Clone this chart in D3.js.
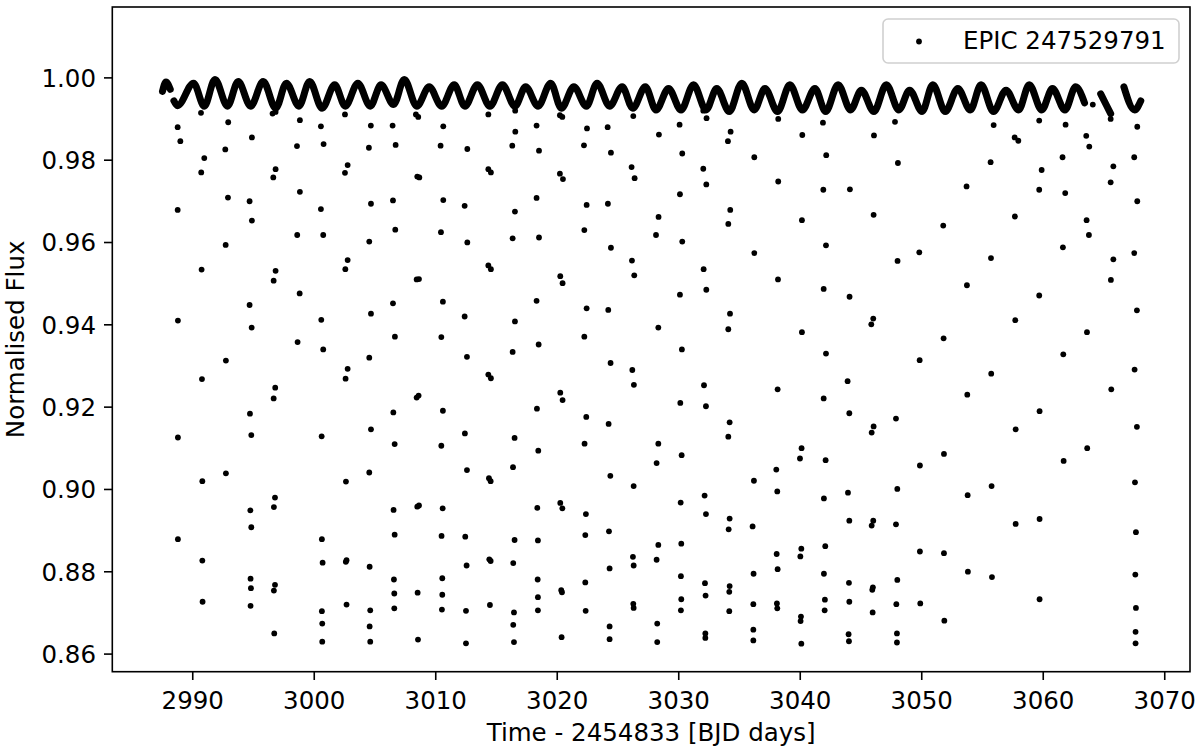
<!DOCTYPE html>
<html>
<head>
<meta charset="utf-8">
<script src="https://cdn.jsdelivr.net/npm/d3@7"></script>
<style>
  html, body { margin: 0; padding: 0; background: #fff; }
  svg { display: block; font-family: "DejaVu Sans", sans-serif; }
</style>
</head>
<body>
<svg id="chart" width="1200" height="752"></svg>
<script>
// ---------------- DATA ----------------
const seriesName = "EPIC 247529791";
const xLabel = "Time - 2454833 [BJD days]";
const yLabel = "Normalised Flux";
const xTicks = [2990, 3000, 3010, 3020, 3030, 3040, 3050, 3060, 3070];
const yTicks = [0.86, 0.88, 0.90, 0.92, 0.94, 0.96, 0.98, 1.00];
const xDomain = [2983.42, 3072.12];
const yDomain = [0.8556, 1.0171];

// out-of-eclipse band: extrema of the modulation (null = data gap)
const bandPoints = [
  [2987.55,0.9966],[2987.84,0.9989],[2988.19,0.9971], null,
  [2988.49,0.9943],[2988.78,0.9931],[2990.11,0.9986],[2990.99,0.9930],[2991.87,0.9995],
  [2992.90,0.9930],[2993.78,0.9990],[2994.81,0.9930],[2995.84,0.9990],[2996.87,0.9925],
  [2997.75,0.9986],[2998.78,0.9930],[2999.66,0.9990],[3000.69,0.9925],[3001.72,0.9982],
  [3002.60,0.9930],[3003.63,0.9986],[3004.65,0.9930],[3005.54,0.9982],[3006.57,0.9934],
  [3007.45,0.9995],[3008.48,0.9930],[3009.50,0.9977],[3010.53,0.9930],[3011.56,0.9982],
  [3012.44,0.9930],[3013.47,0.9982],[3014.50,0.9930],[3015.53,0.9982],[3016.56,0.9930],
  [3017.44,0.9977],[3018.47,0.9930],[3019.50,0.9986],[3020.38,0.9925],[3021.41,0.9977],
  [3022.44,0.9930],[3023.32,0.9986],[3024.35,0.9930],[3025.38,0.9977],[3026.26,0.9925],
  [3027.29,0.9977],[3028.17,0.9921],[3029.20,0.9973],[3030.23,0.9921],[3031.26,0.9982],
  [3032.29,0.9921],[3033.17,0.9973],[3034.20,0.9917],[3035.23,0.9986],[3036.25,0.9921],
  [3037.14,0.9973],[3038.17,0.9917],[3039.19,0.9982],[3040.22,0.9921],[3041.25,0.9973],
  [3042.13,0.9917],[3043.16,0.9982],[3044.19,0.9921],[3045.07,0.9969],[3046.10,0.9917],
  [3047.13,0.9982],[3048.16,0.9921],[3049.04,0.9969],[3050.07,0.9917],[3050.95,0.9982],
  [3051.98,0.9917],[3053.01,0.9973],[3054.04,0.9921],[3054.92,0.9982],[3055.95,0.9917],
  [3056.98,0.9969],[3058.01,0.9921],[3058.89,0.9982],[3059.92,0.9921],[3060.80,0.9973],
  [3061.83,0.9921],[3062.71,0.9977],[3063.44,0.9938], null,
  [3064.77,0.9960],[3065.21,0.9934],[3065.59,0.9912], null,
  [3066.68,0.9977],[3067.56,0.9921],[3068.07,0.9943]
];

// isolated samples (eclipses and stray points)
const eclipsePoints = [
  [3064.12,0.9934],
  [2988.80,0.9879],[2989.02,0.9845],[2988.80,0.9678],[2988.82,0.9409],[2988.82,0.9125],[2988.82,0.8878],
  [2990.72,0.9914],[2990.99,0.9804],[2990.74,0.9769],[2990.77,0.9533],[2990.80,0.9267],[2990.83,0.9019],[2990.83,0.8826],[2990.85,0.8726],
  [2992.96,0.9891],[2992.72,0.9825],[2992.94,0.9708],[2992.75,0.9593],[2992.77,0.9312],[2992.77,0.9038],
  [2994.91,0.9854],[2994.72,0.9699],[2994.91,0.9652],[2994.72,0.9447],[2994.89,0.9392],[2994.75,0.9183],[2994.86,0.9131],[2994.78,0.8948],[2994.86,0.8907],[2994.80,0.8782],[2994.83,0.8759],[2994.80,0.8716],
  [2996.61,0.9912],[2996.86,0.9916],[2996.86,0.9777],[2996.67,0.9757],[2996.86,0.9530],[2996.70,0.9506],[2996.83,0.9246],[2996.70,0.9220],[2996.81,0.8979],[2996.72,0.8956],[2996.81,0.8767],[2996.72,0.8753],[2996.75,0.8649],
  [2998.86,0.9896],[2998.62,0.9833],[2998.86,0.9722],[2998.64,0.9617],[2998.84,0.9475],[2998.67,0.9357],
  [3000.59,0.9881],[3000.81,0.9838],[3000.59,0.9680],[3000.78,0.9617],[3000.62,0.9411],[3000.78,0.9339],[3000.65,0.9128],[3000.67,0.8878],[3000.73,0.8821],[3000.67,0.8703],[3000.70,0.8673],[3000.70,0.8629],
  [3002.57,0.9910],[3002.79,0.9787],[3002.57,0.9768],[3002.79,0.9556],[3002.60,0.9534],[3002.79,0.9292],[3002.62,0.9268],[3002.65,0.9018],[3002.70,0.8827],[3002.64,0.8823],[3002.70,0.8719],
  [3004.70,0.9883],[3004.54,0.9829],[3004.71,0.9693],[3004.57,0.9601],[3004.71,0.9426],[3004.57,0.9319],[3004.71,0.9145],[3004.57,0.9040],[3004.60,0.8811],[3004.65,0.8705],[3004.60,0.8666],[3004.65,0.8629],
  [3006.49,0.9883],[3006.74,0.9836],[3006.52,0.9701],[3006.71,0.9630],[3006.52,0.9451],[3006.68,0.9370],[3006.55,0.9186],[3006.66,0.9109],[3006.57,0.8949],[3006.66,0.8889],[3006.60,0.8780],[3006.63,0.8746],[3006.63,0.8710],
  [3008.41,0.9910],[3008.60,0.9904],[3008.52,0.9759],[3008.69,0.9757],[3008.47,0.9509],[3008.66,0.9510],[3008.47,0.9222],[3008.63,0.9227],[3008.52,0.8957],[3008.66,0.8960],[3008.55,0.8748],[3008.58,0.8634],
  [3010.66,0.9881],[3010.44,0.9834],[3010.66,0.9702],[3010.47,0.9624],[3010.63,0.9455],[3010.50,0.9369],[3010.63,0.9190],[3010.50,0.9105],[3010.61,0.8953],[3010.52,0.8886],[3010.58,0.8783],[3010.58,0.8743],[3010.55,0.8707],
  [3012.64,0.9826],[3012.42,0.9688],[3012.64,0.9599],[3012.42,0.9419],[3012.61,0.9321],[3012.44,0.9135],[3012.61,0.9046],[3012.47,0.8884],[3012.58,0.8814],[3012.53,0.8704],[3012.53,0.8625],
  [3014.37,0.9910],[3014.37,0.9777],[3014.58,0.9769],[3014.37,0.9543],[3014.58,0.9534],[3014.37,0.9278],[3014.58,0.9269],[3014.42,0.9026],[3014.56,0.9019],[3014.45,0.8829],[3014.56,0.8825],[3014.50,0.8718],
  [3016.58,0.9919],[3016.59,0.9868],[3016.34,0.9834],[3016.56,0.9674],[3016.37,0.9609],[3016.56,0.9407],[3016.37,0.9333],[3016.53,0.9124],[3016.40,0.9053],[3016.53,0.8876],[3016.42,0.8820],[3016.48,0.8700],[3016.42,0.8670],[3016.48,0.8628],
  [3018.34,0.9883],[3018.54,0.9822],[3018.34,0.9707],[3018.54,0.9611],[3018.34,0.9457],[3018.51,0.9351],[3018.37,0.9195],[3018.48,0.9093],[3018.40,0.8954],[3018.45,0.8875],[3018.43,0.8780],[3018.45,0.8737],[3018.45,0.8705],
  [3020.26,0.9908],[3020.46,0.9904],[3020.26,0.9766],[3020.51,0.9753],[3020.29,0.9517],[3020.48,0.9500],[3020.29,0.9234],[3020.48,0.9216],[3020.29,0.8966],[3020.46,0.8953],[3020.37,0.8754],[3020.43,0.8749],[3020.40,0.8640],
  [3022.49,0.9876],[3022.24,0.9835],[3022.46,0.9690],[3022.27,0.9629],[3022.46,0.9439],[3022.27,0.9370],[3022.43,0.9175],[3022.29,0.9110],[3022.40,0.8939],[3022.35,0.8888],[3022.35,0.8773],[3022.38,0.8704],
  [3024.19,0.9879],[3024.46,0.9817],[3024.21,0.9693],[3024.46,0.9586],[3024.24,0.9435],[3024.43,0.9306],[3024.27,0.9158],[3024.41,0.9032],[3024.30,0.8897],[3024.35,0.8807],[3024.35,0.8666],[3024.35,0.8635],
  [3026.30,0.9906],[3026.16,0.9782],[3026.41,0.9755],[3026.19,0.9555],[3026.38,0.9519],[3026.22,0.9289],[3026.35,0.9253],[3026.33,0.9007],[3026.27,0.8835],[3026.33,0.8814],[3026.30,0.8721],[3026.33,0.8711],
  [3028.41,0.9861],[3028.38,0.9661],[3028.17,0.9617],[3028.36,0.9392],[3028.36,0.9110],[3028.22,0.9063],[3028.36,0.8864],[3028.22,0.8828],[3028.27,0.8673],[3028.27,0.8628],
  [3030.11,0.9885],[3030.33,0.9815],[3030.14,0.9716],[3030.33,0.9601],[3030.14,0.9472],[3030.30,0.9339],[3030.17,0.9209],[3030.28,0.9082],[3030.20,0.8967],[3030.25,0.8867],[3030.22,0.8788],[3030.25,0.8732],[3030.22,0.8705],
  [3032.06,0.9919],[3032.33,0.9901],[3032.06,0.9778],[3032.31,0.9740],[3032.09,0.9534],[3032.31,0.9484],[3032.12,0.9252],[3032.28,0.9201],[3032.17,0.8984],[3032.28,0.8939],[3032.20,0.8771],[3032.25,0.8741],[3032.23,0.8649],[3032.23,0.8638],
  [3034.31,0.9868],[3034.09,0.9845],[3034.28,0.9678],[3034.12,0.9644],[3034.26,0.9426],[3034.12,0.9388],[3034.23,0.9162],[3034.12,0.9127],[3034.23,0.8928],[3034.15,0.8902],[3034.23,0.8764],[3034.20,0.8750],[3034.20,0.8703],
  [3036.26,0.9806],[3036.26,0.9573],[3036.23,0.9020],[3036.12,0.8909],[3036.20,0.8794],[3036.18,0.8720],[3036.18,0.8658],[3036.18,0.8632],
  [3038.23,0.9899],[3038.23,0.9747],[3038.21,0.9509],[3038.18,0.9242],[3038.07,0.9047],[3038.15,0.8994],[3038.10,0.8842],[3038.18,0.8805],[3038.12,0.8722],[3038.15,0.8710],
  [3040.21,0.9860],[3040.18,0.9653],[3040.18,0.9381],[3040.15,0.9099],[3040.02,0.9074],[3040.13,0.8855],[3040.05,0.8836],[3040.10,0.8690],[3040.07,0.8679],[3040.13,0.8624],
  [3041.91,0.9890],[3042.18,0.9811],[3041.94,0.9727],[3042.16,0.9592],[3041.97,0.9486],[3042.16,0.9329],[3041.97,0.9220],[3042.13,0.9070],[3041.99,0.8977],[3042.10,0.8861],[3041.99,0.8794],[3042.07,0.8731],[3042.05,0.8705],
  [3044.13,0.9728],[3044.10,0.9467],[3043.94,0.9262],[3044.08,0.9184],[3043.97,0.8991],[3044.08,0.8923],[3044.05,0.8772],[3044.08,0.8726],[3044.02,0.8647],[3044.05,0.8630],
  [3046.11,0.9859],[3046.08,0.9666],[3046.05,0.9414],[3045.89,0.9400],[3046.08,0.9152],[3045.92,0.9137],[3046.05,0.8923],[3045.92,0.8911],[3046.02,0.8761],[3045.97,0.8755],[3046.00,0.8700],
  [3047.84,0.9892],[3048.08,0.9792],[3048.05,0.9554],[3047.92,0.9171],[3048.03,0.9000],[3047.92,0.8914],[3048.03,0.8779],[3047.95,0.8720],[3048.00,0.8649],[3048.00,0.8627],
  [3049.84,0.9575],[3049.87,0.9313],[3049.89,0.9057],[3049.89,0.8848],[3049.92,0.8722],
  [3051.81,0.9640],[3051.84,0.9366],[3051.87,0.9085],[3051.87,0.8844],[3051.90,0.8680],
  [3053.73,0.9735],[3053.76,0.9495],[3053.79,0.9229],[3053.82,0.8985],[3053.84,0.8799],
  [3055.96,0.9884],[3055.71,0.9794],[3055.74,0.9561],[3055.76,0.9280],[3055.79,0.9007],[3055.82,0.8786],
  [3057.69,0.9854],[3057.99,0.9846],[3057.71,0.9662],[3057.74,0.9410],[3057.77,0.9145],[3057.77,0.8915],
  [3059.71,0.9895],[3059.91,0.9775],[3059.71,0.9727],[3059.71,0.9470],[3059.74,0.9189],[3059.74,0.8927],[3059.74,0.8732],
  [3061.88,0.9885],[3061.63,0.9806],[3061.85,0.9719],[3061.66,0.9587],[3061.69,0.9327],[3061.72,0.9068],
  [3063.58,0.9858],[3063.83,0.9832],[3063.61,0.9653],[3063.80,0.9617],[3063.64,0.9381],[3063.66,0.9099],
  [3065.59,0.9899],[3065.81,0.9784],[3065.59,0.9745],[3065.81,0.9558],[3065.61,0.9508],[3065.64,0.9242],
  [3067.78,0.9880],[3067.53,0.9806],[3067.78,0.9699],[3067.53,0.9573],[3067.75,0.9434],[3067.56,0.9290],[3067.75,0.9151],[3067.59,0.9016],[3067.67,0.8895],[3067.62,0.8792],[3067.67,0.8711],[3067.64,0.8653],[3067.64,0.8625]
];

// ---------------- LAYOUT ----------------
const W = 1200, H = 752;
const margin = { left: 112.3, right: 10, top: 7, bottom: 80.3 };
const plotW = W - margin.left - margin.right;
const plotH = H - margin.top - margin.bottom;
const FONT = 24.5;

const svg = d3.select("#chart");
const x = d3.scaleLinear().domain(xDomain).range([margin.left, margin.left + plotW]);
const y = d3.scaleLinear().domain(yDomain).range([margin.top + plotH, margin.top]);

const clipId = "plotclip";
svg.append("defs").append("clipPath").attr("id", clipId)
  .append("rect").attr("x", margin.left).attr("y", margin.top).attr("width", plotW).attr("height", plotH);

const plot = svg.append("g").attr("clip-path", `url(#${clipId})`);

// band
const line = d3.line()
  .defined(d => d !== null)
  .x(d => x(d[0])).y(d => y(d[1]))
  .curve(d3.curveMonotoneX);
plot.append("path")
  .attr("d", line(bandPoints))
  .attr("fill", "none").attr("stroke", "#000")
  .attr("stroke-width", 7).attr("stroke-linecap", "round").attr("stroke-linejoin", "round");

// points
plot.selectAll("circle.pt").data(eclipsePoints).join("circle")
  .attr("class", "pt")
  .attr("cx", d => x(d[0])).attr("cy", d => y(d[1])).attr("r", 2.9).attr("fill", "#000");

// axes
const xAxis = d3.axisBottom(x).tickValues(xTicks).tickFormat(d3.format("d")).tickSize(8.3).tickPadding(8);
const yAxis = d3.axisLeft(y).tickValues(yTicks).tickFormat(d3.format(".2f")).tickSize(8.3).tickPadding(8);

const gx = svg.append("g").attr("transform", `translate(0,${margin.top + plotH})`).call(xAxis);
const gy = svg.append("g").attr("transform", `translate(${margin.left},0)`).call(yAxis);
[gx, gy].forEach(g => {
  g.select(".domain").remove();
  g.selectAll(".tick line").attr("stroke", "#000").attr("stroke-width", 1.6);
  g.selectAll(".tick text").attr("fill", "#000").style("font-size", FONT + "px")
    .style("font-family", "'DejaVu Sans', sans-serif");
});
gx.selectAll(".tick text").attr("dy", null).attr("y", 37);
gy.selectAll(".tick text").attr("dy", "0.36em");

// frame
svg.append("rect")
  .attr("x", margin.left).attr("y", margin.top).attr("width", plotW).attr("height", plotH)
  .attr("fill", "none").attr("stroke", "#000").attr("stroke-width", 1.6);

// axis labels
svg.append("text")
  .attr("x", margin.left + plotW / 2).attr("y", 741)
  .attr("text-anchor", "middle").style("font-size", FONT + "px").attr("fill", "#000")
  .text(xLabel);
svg.append("text")
  .attr("transform", `translate(24,${margin.top + plotH / 2}) rotate(-90)`)
  .attr("text-anchor", "middle").style("font-size", FONT + "px").attr("fill", "#000")
  .text(yLabel);

// legend
const lg = svg.append("g");
lg.append("rect").attr("x", 883).attr("y", 19).attr("width", 296).attr("height", 44).attr("rx", 5)
  .attr("fill", "#fff").attr("fill-opacity", 0.8).attr("stroke", "#d0d0d0").attr("stroke-width", 1.6);
lg.append("circle").attr("cx", 919).attr("cy", 41.5).attr("r", 2.9).attr("fill", "#000");
lg.append("text").attr("x", 963).attr("y", 49).style("font-size", FONT + "px").attr("fill", "#000")
  .text(seriesName);
</script>
</body>
</html>
